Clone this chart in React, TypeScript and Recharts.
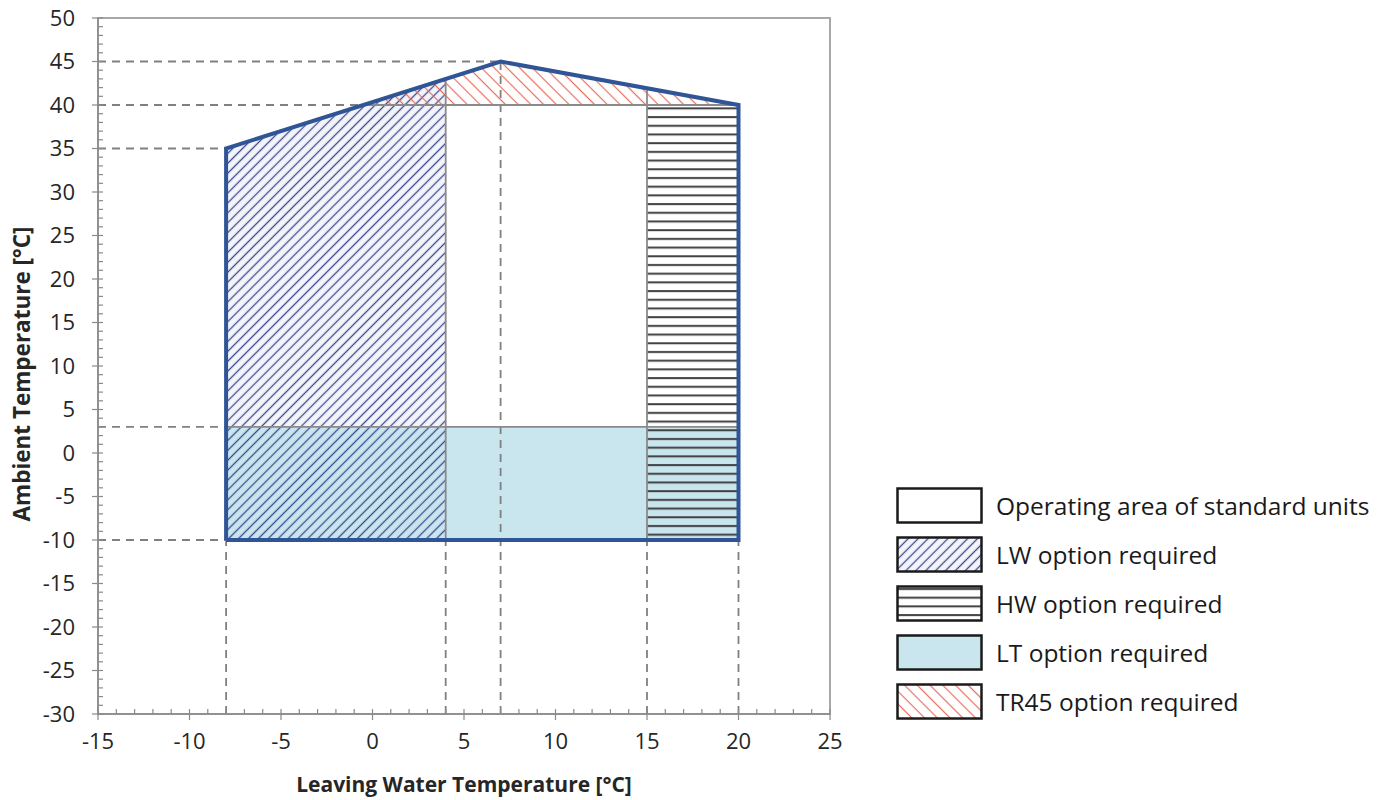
import React from "react";
import {
  ComposedChart,
  Area,
  Line,
  XAxis,
  YAxis,
  ReferenceLine,
  ReferenceArea,
} from "recharts";

// axis ticks: every unit gets a small tick, every 5th a label
const xTicks = Array.from({ length: 41 }, (_, i) => -15 + i);
const yTicks = Array.from({ length: 81 }, (_, i) => -30 + i);

// operating envelope (closed outline)
const envelopeX = [-8, -8, 7, 20, 20, -8];
const envelopeY = [-10, 35, 45, 40, -10, -10];

// option areas: x, lower bound, upper bound
const ltX = [-8, 20];
const ltLow = [-10, -10];
const ltHigh = [3, 3];

const lwX = [-8, 4];
const lwLow = [-10, -10];
const lwHigh = [35, 43];
const lwTintLow = [3, 3];

const hwX = [15, 20];
const hwLow = [-10, -10];
const hwHigh = [40, 40];

const trX = [-0.5, 7, 20];
const trLow = [40, 40, 40];
const trHigh = [40, 45, 40];

// guide lines [x1, y1, x2, y2]
const dashedLines = [
  [-15, 45, 7, 45],
  [-15, 40, -0.5, 40],
  [-15, 35, -8, 35],
  [-15, 3, -8, 3],
  [-15, -10, -8, -10],
  [-8, -30, -8, -10],
  [4, -30, 4, -10],
  [7, -30, 7, 45],
  [15, -30, 15, -10],
  [20, -30, 20, -10],
];
const solidLines = [
  [4, -10, 4, 43],
  [15, -10, 15, 41.9],
  [-0.5, 40, 20, 40],
  [-8, 3, 20, 3],
];

const legendLabels = [
  "Operating area of standard units",
  "LW option required",
  "HW option required",
  "LT option required",
  "TR45 option required",
];
const legendFills = ["#ffffff", "url(#lwHatch)", "url(#hwLines)", "#c9e5ee", "url(#trHatch)"];

const toRange = (xs: number[], lo: number[], hi: number[]) =>
  xs.map((x, i) => ({ x, y: [lo[i], hi[i]] }));

const envelope = envelopeX.map((x, i) => ({ x, y: envelopeY[i] }));

const FONT = "'Open Sans', sans-serif";
const TEXT = "#262626";
const AXIS = "#8a8a8a";
const GAP = 19; // distance from axis line to tick label

function XTick(props: any) {
  const { x, y, payload } = props;
  const v = payload.value;
  const major = v % 5 === 0;
  const ay = y - GAP;
  return (
    <g>
      <line x1={x} x2={x} y1={ay - 5} y2={major ? ay + 6 : ay} stroke={AXIS} strokeWidth={1.2} />
      {major && (
        <text x={x} y={y} dy="0.71em" textAnchor="middle" fill={TEXT} fontSize={22} fontFamily={FONT}>
          {v}
        </text>
      )}
    </g>
  );
}

function YTick(props: any) {
  const { x, y, payload } = props;
  const v = payload.value;
  const major = v % 5 === 0;
  const ax = x + GAP + 4;
  return (
    <g>
      <line x1={major ? ax - 6 : ax} x2={ax + 5} y1={y} y2={y} stroke={AXIS} strokeWidth={1.2} />
      {major && (
        <text x={x} y={y} dy="0.355em" textAnchor="end" fill={TEXT} fontSize={22} fontFamily={FONT}>
          {v}
        </text>
      )}
    </g>
  );
}

// rotated title, a little below the middle of the axis like the original
function YTitle(props: any) {
  const vb = props.viewBox || { x: 0, y: 18, width: 98, height: 696 };
  const cx = vb.x + 21;
  const cy = vb.y + vb.height / 2 + 8;
  return (
    <text
      x={cx}
      y={cy}
      transform={`rotate(-90, ${cx}, ${cy})`}
      textAnchor="middle"
      dominantBaseline="central"
      fill={TEXT}
      fontSize={22.5}
      fontWeight="bold"
      fontFamily={FONT}
    >
      Ambient Temperature [°C]
    </text>
  );
}

function Patterns() {
  return (
    <svg width="0" height="0" style={{ position: "absolute" }}>
      <defs>
        <pattern id="lwHatch" patternUnits="userSpaceOnUse" width="7" height="10" patternTransform="rotate(45)">
          <rect width="7" height="10" fill="#f4f4fb" />
          <line x1="3.5" y1="0" x2="3.5" y2="10" stroke="#3b4a8e" strokeWidth="1.3" />
        </pattern>
        <pattern id="lwHatchClear" patternUnits="userSpaceOnUse" width="7" height="10" patternTransform="rotate(45)">
          <line x1="3.5" y1="0" x2="3.5" y2="10" stroke="#3b4a8e" strokeWidth="1.3" />
        </pattern>
        <pattern id="trHatch" patternUnits="userSpaceOnUse" width="9" height="10" patternTransform="rotate(-45)">
          <line x1="4.5" y1="0" x2="4.5" y2="10" stroke="#e8705f" strokeWidth="1.2" />
        </pattern>
        <pattern id="hwLines" patternUnits="userSpaceOnUse" width="10" height="8.7">
          <line x1="0" y1="4" x2="10" y2="4" stroke="#404040" strokeWidth="2" />
        </pattern>
      </defs>
    </svg>
  );
}

export default function App() {
  return (
    <div style={{ position: "absolute", left: 0, top: 0, width: 1389, height: 800, background: "#fff", fontFamily: FONT }}>
      <Patterns />
      <ComposedChart width={1389} height={800} margin={{ top: 18, right: 559, left: 0, bottom: 8 }}>
        <XAxis
          type="number"
          dataKey="x"
          domain={[-15, 25]}
          ticks={xTicks}
          interval={0}
          height={78}
          tickSize={0}
          tickMargin={GAP}
          tickLine={false}
          stroke={AXIS}
          strokeWidth={1.5}
          tick={<XTick />}
          label={{ value: "Leaving Water Temperature [°C]", position: "insideBottom", offset: 0, fill: TEXT, fontSize: 21, fontWeight: "bold", fontFamily: FONT }}
        />
        <YAxis
          type="number"
          domain={[-30, 50]}
          ticks={yTicks}
          interval={0}
          width={98}
          tickSize={0}
          tickMargin={GAP + 4}
          tickLine={false}
          stroke={AXIS}
          strokeWidth={1.5}
          tick={<YTick />}
          label={<YTitle />}
        />

        <ReferenceArea x1={-15} x2={25} y1={-30} y2={50} fill="none" stroke="#a8a8a8" strokeWidth={2} />

        {dashedLines.map(([x1, y1, x2, y2], i) => (
          <ReferenceLine
            key={`d${i}`}
            segment={[{ x: x1, y: y1 }, { x: x2, y: y2 }]}
            stroke="#808080"
            strokeWidth={1.8}
            strokeDasharray="8 6"
          />
        ))}

        <Area data={toRange(ltX, ltLow, ltHigh)} dataKey="y" type="linear" fill="#c9e5ee" fillOpacity={1} stroke="none" isAnimationActive={false} />
        <Area data={toRange(lwX, lwTintLow, lwHigh)} dataKey="y" type="linear" fill="#f4f4fb" fillOpacity={1} stroke="none" isAnimationActive={false} />
        <Area data={toRange(lwX, lwLow, lwHigh)} dataKey="y" type="linear" fill="url(#lwHatchClear)" fillOpacity={1} stroke="none" isAnimationActive={false} />
        <Area data={toRange(hwX, hwLow, hwHigh)} dataKey="y" type="linear" fill="url(#hwLines)" fillOpacity={1} stroke="none" isAnimationActive={false} />
        <Area data={toRange(trX, trLow, trHigh)} dataKey="y" type="linear" fill="url(#trHatch)" fillOpacity={1} stroke="none" isAnimationActive={false} />

        {solidLines.map(([x1, y1, x2, y2], i) => (
          <ReferenceLine
            key={`s${i}`}
            segment={[{ x: x1, y: y1 }, { x: x2, y: y2 }]}
            stroke={AXIS}
            strokeWidth={1.8}
          />
        ))}

        <Line
          data={envelope}
          dataKey="y"
          type="linear"
          stroke="#2f5597"
          strokeWidth={4}
          dot={false}
          isAnimationActive={false}
        />
      </ComposedChart>

      <div style={{ position: "absolute", left: 896, top: 481 }}>
        {legendLabels.map((label, i) => (
          <div key={label} style={{ display: "flex", alignItems: "center", height: 49 }}>
            <svg width={88} height={37} style={{ display: "block" }}>
              <rect x={1.5} y={1.5} width={84} height={34} fill={legendFills[i]} stroke="#1a1a1a" strokeWidth={2.5} />
            </svg>
            <span style={{ marginLeft: 12, fontSize: 24.5, color: "#1a1a1a" }}>{label}</span>
          </div>
        ))}
      </div>
    </div>
  );
}
